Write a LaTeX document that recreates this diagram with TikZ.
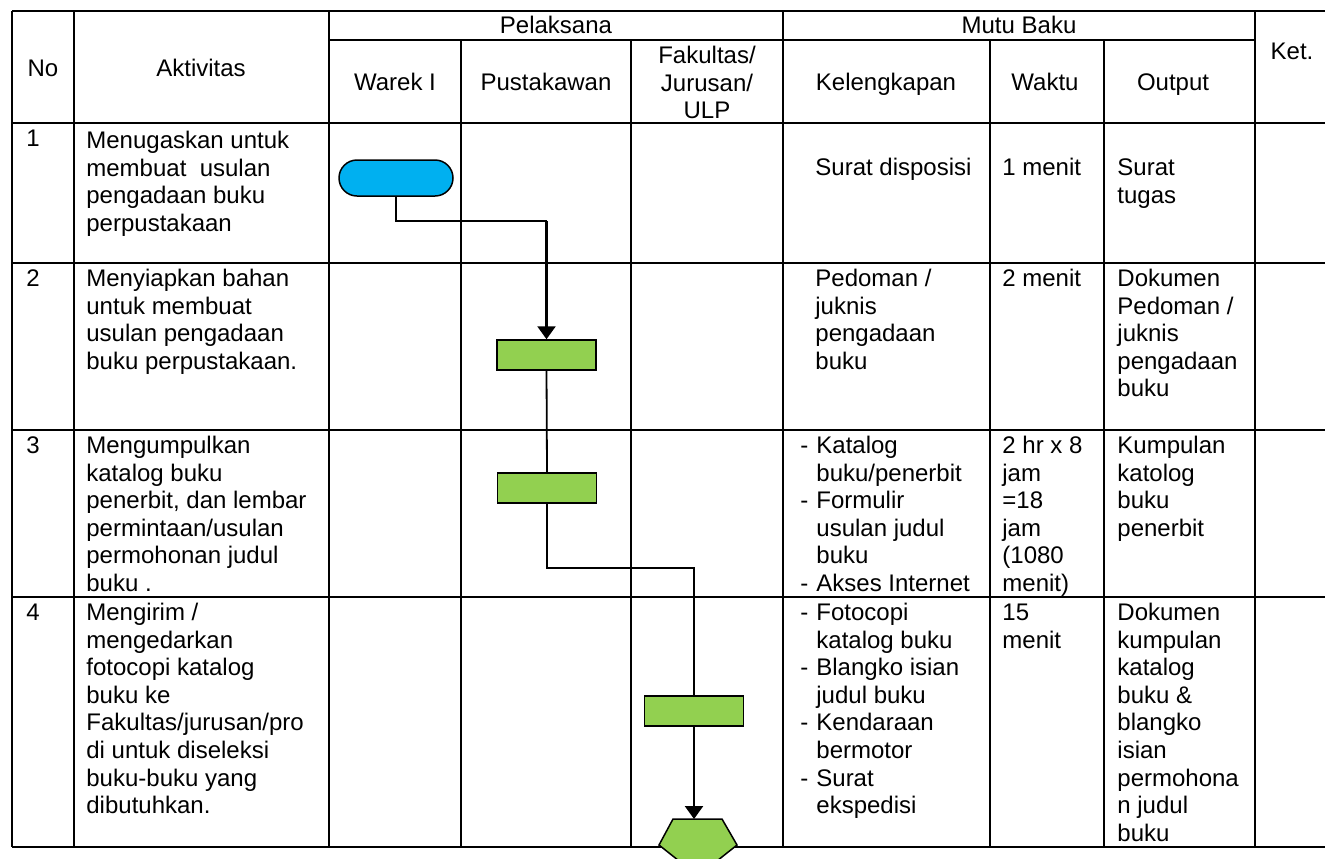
\documentclass[tikz,border=0pt]{standalone}
\usepackage{fontspec}
\setmainfont{Liberation Sans}
\usetikzlibrary{arrows.meta}
\definecolor{termblue}{HTML}{00B0F0}
\definecolor{procgreen}{HTML}{92D050}
\newcommand{\lnstrut}{\rule{0pt}{10pt}}
\newcommand{\dsh}{\makebox[8pt][l]{-}}
\newcommand{\ind}{\hspace*{8pt}}

\begin{document}
\begin{tikzpicture}[x=0.5pt, y=-0.5pt,
    font=\fontsize{12pt}{13.8pt}\selectfont,
    txt/.style={anchor=north west, inner sep=0pt, align=left},
    head/.style={anchor=base, inner sep=0pt},
    grid/.style={line width=1pt},
    proc/.style={draw, line width=0.75pt, fill=procgreen, minimum width=49.5pt, minimum height=15pt, inner sep=0pt},
    term/.style={draw, line width=0.75pt, fill=termblue, rounded corners=9pt, minimum width=57pt, minimum height=18pt, inner sep=0pt},
    flow/.style={line width=0.9pt},
    arr/.style={line width=1.2pt, -{Triangle[width=9pt,length=6.5pt]}}]

    \useasboundingbox (0,0) rectangle (1325,858);

    \foreach \x in {12,74,329,783,1255}
        \draw[grid] (\x,11) -- (\x,847);
    \foreach \x in {461,631,990,1104}
        \draw[grid] (\x,40) -- (\x,847);
    \foreach \y in {11,123,263,430,597,847}
        \draw[grid] (12,\y) -- (1345,\y);
    \draw[grid] (329,40) -- (1255,40);

    \node[head] (hno) at (43,76) {No};
    \node[head] (hakt) at (201,76) {Aktivitas};
    \node[head] (hpel) at (556,33) {Pelaksana};
    \node[head] (hmutu) at (1019,33) {Mutu Baku};
    \node[head] (hwarek) at (395,90) {Warek I};
    \node[head] (hpus) at (546,90) {Pustakawan};
    \node[anchor=north, inner sep=0pt, align=center] (hfak) at (707,43) {\lnstrut Fakultas/\\Jurusan/\\ULP};
    \node[head] (hkel) at (886,90) {Kelengkapan};
    \node[head] (hwkt) at (1045,90) {Waktu};
    \node[head] (hout) at (1173,90) {Output};
    \node[head] (hket) at (1292,59) {Ket.};

    \node[txt] (no1) at (26,126) {\lnstrut 1};
    \node[txt] (akt1) at (86,128) {\lnstrut Menugaskan untuk\\membuat\ \ usulan\\pengadaan buku\\perpustakaan};
    \node[txt] (kel1) at (815,155) {\lnstrut Surat disposisi};
    \node[txt] (wkt1) at (1002,155) {\lnstrut 1 menit};
    \node[txt] (out1) at (1117,155) {\lnstrut Surat\\tugas};

    \node[txt] (no2) at (26,266) {\lnstrut 2};
    \node[txt] (akt2) at (86,266) {\lnstrut Menyiapkan bahan\\untuk membuat\\usulan pengadaan\\buku perpustakaan.};
    \node[txt] (kel2) at (815,266) {\lnstrut Pedoman /\\juknis\\pengadaan\\buku};
    \node[txt] (wkt2) at (1002,266) {\lnstrut 2 menit};
    \node[txt] (out2) at (1117,266) {\lnstrut Dokumen\\Pedoman /\\juknis\\pengadaan\\buku};

    \node[txt] (no3) at (26,433) {\lnstrut 3};
    \node[txt] (akt3) at (86,433) {\lnstrut Mengumpulkan\\katalog buku\\penerbit, dan lembar\\permintaan/usulan\\permohonan judul\\buku .};
    \node[txt] (kel3) at (800,433) {\lnstrut\dsh Katalog\\\ind buku/penerbit\\\dsh Formulir\\\ind usulan judul\\\ind buku\\\dsh Akses Internet};
    \node[txt] (wkt3) at (1002,433) {\lnstrut 2 hr x 8\\jam\\=18\\jam\\(1080\\menit)};
    \node[txt] (out3) at (1117,433) {\lnstrut Kumpulan\\katolog\\buku\\penerbit};

    \node[txt] (no4) at (26,600) {\lnstrut 4};
    \node[txt] (akt4) at (86,600) {\lnstrut Mengirim /\\mengedarkan\\fotocopi katalog\\buku ke\\Fakultas/jurusan/pro\\di untuk diseleksi\\buku-buku yang\\dibutuhkan.};
    \node[txt] (kel4) at (800,600) {\lnstrut\dsh Fotocopi\\\ind katalog buku\\\dsh Blangko isian\\\ind judul buku\\\dsh Kendaraan\\\ind bermotor\\\dsh Surat\\\ind ekspedisi};
    \node[txt] (wkt4) at (1002,600) {\lnstrut 15\\menit};
    \node[txt] (out4) at (1117,600) {\lnstrut Dokumen\\kumpulan\\katalog\\buku \&\\blangko\\isian\\permohona\\n judul\\buku};

    \node[term] (start) at (396,178) {};
    \node[proc] (siap) at (546.5,355) {};
    \node[proc] (kumpul) at (547,488) {};
    \node[proc] (kirim) at (694,711) {};
    \filldraw[fill=procgreen, line width=0.75pt] (673,819) -- (722,819) -- (737,845) -- (698,876) -- (659,845) -- cycle;
    \coordinate (conn) at (694,819);

    \coordinate (bend1) at (546.5,221);
    \coordinate (bend2) at (694,568);
    \draw[flow] (start.south) |- (bend1);
    \draw[arr] (bend1) -- (siap.north);
    \draw[flow] (siap.south) -- (kumpul.north);
    \draw[flow, line width=0.7pt] (kumpul.south) |- (bend2) -- (kirim.north);
    \draw[arr] (kirim.south) -- (conn);

\end{tikzpicture}
\end{document}
